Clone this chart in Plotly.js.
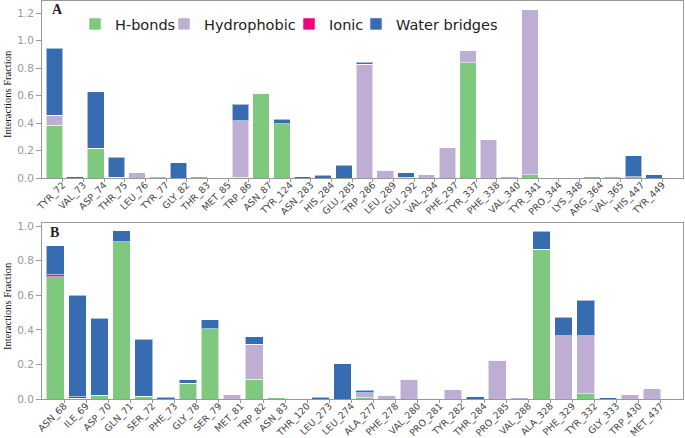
<!DOCTYPE html>
<html><head><meta charset="utf-8">
<script src="https://cdn.plot.ly/plotly-3.0.1.min.js"></script>
<style>html,body{margin:0;padding:0;background:#fff}#chart{width:685px;height:438px}</style>
</head><body><div id="chart"></div>
<script>
// ---- Panel A data ----
const residuesA = ["TYR_72","VAL_73","ASP_74","THR_75","LEU_76","TYR_77","GLY_82","THR_83","MET_85","TRP_86","ASN_87","TYR_124","ASN_283","HIS_284","GLU_285","TRP_286","LEU_289","GLU_292","VAL_294","PHE_297","TYR_337","PHE_338","VAL_340","TYR_341","PRO_344","LYS_348","ARG_364","VAL_365","HIS_447","TYR_449"];
const hbondsA      = [0.383,0,0.216,0.005,0,0,0,0.008,0,0.007,0.616,0.395,0,0,0,0,0,0,0,0,0.839,0,0,0.022,0,0,0.010,0,0.008,0];
const hydrophobicA = [0.073,0,0,0,0.040,0,0,0,0,0.410,0,0,0,0,0,0.829,0.058,0,0.022,0.220,0.080,0.279,0,1.197,0,0,0,0.012,0,0];
const ionicA       = [0,0,0,0,0,0,0,0,0,0,0,0,0,0,0,0,0,0.004,0,0,0,0,0,0,0,0,0,0,0,0];
const waterA       = [0.489,0.010,0.414,0.145,0,0.005,0.110,0,0,0.119,0,0.035,0.010,0.020,0.092,0.015,0,0.035,0,0,0.007,0,0.007,0.008,0,0.003,0,0,0.154,0.022];

// ---- Panel B data ----
const residuesB = ["ASN_68","ILE_69","ASP_70","GLN_71","SER_72","PHE_73","GLY_78","SER_79","MET_81","TRP_82","ASN_83","THR_120","LEU_273","LEU_274","ALA_277","PHE_278","VAL_280","PRO_281","TYR_282","THR_284","PRO_285","VAL_288","ALA_328","PHE_329","TYR_332","GLY_333","TRP_430","MET_437"];
const hbondsB      = [0.707,0.005,0.023,0.909,0.015,0,0.090,0.407,0,0.114,0.008,0,0,0,0.007,0,0,0,0,0,0,0,0.865,0,0.029,0,0,0];
const hydrophobicB = [0,0,0,0,0,0,0,0,0.025,0.204,0,0,0,0,0.030,0.021,0.114,0.004,0.054,0,0.224,0.008,0,0.366,0.337,0,0.025,0.058];
const ionicB       = [0.012,0.008,0,0,0,0,0,0,0,0,0,0,0,0,0,0,0,0,0,0,0,0,0,0,0,0,0,0];
const waterB       = [0.167,0.586,0.445,0.064,0.332,0.010,0.022,0.050,0,0.042,0,0,0.010,0.204,0.013,0,0,0,0,0.012,0,0,0.104,0.106,0.206,0.006,0,0];

const seriesNames = ["H-bonds","Hydrophobic","Ionic","Water bridges"];
const seriesColors = ["#7fc97f","#beaed4","#f0027f","#386cb0"];
const legendIds = ["legend","legend2","legend3","legend4"];

const W = 685, H = 438;
const px = v => v / W;
const py = v => 1 - v / H;

function makeTraces(cats, arrays, xa, ya, showLegend) {
  return arrays.map((vals, i) => ({
    type: "bar",
    x: cats, y: vals,
    name: seriesNames[i],
    xaxis: xa, yaxis: ya,
    width: 0.8, offset: -0.8,
    marker: {color: seriesColors[i], line: {color: "rgba(255,255,255,0.55)", width: 1}},
    showlegend: showLegend,
    legend: legendIds[i],
    hoverinfo: "x+y+name"
  }));
}

const traces = [
  ...makeTraces(residuesA, [hbondsA, hydrophobicA, ionicA, waterA], "x", "y", true),
  ...makeTraces(residuesB, [hbondsB, hydrophobicB, ionicB, waterB], "x2", "y2", false)
];

const xCommon = {
  type: "category", showline: true, mirror: true, linecolor: "#999", linewidth: 1,
  ticks: "outside", ticklen: 3, tickcolor: "#999", tickangle: -45, ticklabelstandoff: -6,
  tickfont: {family: "DejaVu Sans", size: 9.4, color: "#444"},
  showgrid: false, zeroline: false, fixedrange: true
};
const yCommon = {
  showline: true, mirror: true, linecolor: "#999", linewidth: 1,
  ticks: "outside", ticklen: 5, tickcolor: "#999", tickformat: ".1f", dtick: 0.2,
  tickfont: {family: "DejaVu Sans", size: 10.5, color: "#999"},
  showgrid: false, zeroline: false, fixedrange: true
};

const legendBase = {orientation: "h", bgcolor: "rgba(0,0,0,0)", borderwidth: 0,
  font: {family: "DejaVu Sans", size: 14.5, color: "#222"},
  xanchor: "left", yanchor: "middle", y: py(24), itemclick: false, itemdoubleclick: false};
const legendXs = [75, 164, 289, 356];

const layout = {
  width: W, height: H,
  margin: {l: 0, r: 0, t: 0, b: 0},
  paper_bgcolor: "#fff", plot_bgcolor: "#fff",
  barmode: "stack",
  xaxis: Object.assign({}, xCommon, {domain: [px(42), px(683)], anchor: "y", range: [-1, 30]}),
  yaxis: Object.assign({}, yCommon, {domain: [py(178), py(1)], anchor: "x", range: [0, 1.29]}),
  xaxis2: Object.assign({}, xCommon, {domain: [px(42), px(683)], anchor: "y2", range: [-1, 28]}),
  yaxis2: Object.assign({}, yCommon, {domain: [py(399), py(223)], anchor: "x2", range: [0, 1.018]}),
  legend:  Object.assign({}, legendBase, {x: px(legendXs[0])}),
  legend2: Object.assign({}, legendBase, {x: px(legendXs[1])}),
  legend3: Object.assign({}, legendBase, {x: px(legendXs[2])}),
  legend4: Object.assign({}, legendBase, {x: px(legendXs[3])}),
  annotations: [
    {text: "<b>A</b>", xref: "paper", yref: "paper", x: px(50), y: py(10), xanchor: "left", yanchor: "middle",
     showarrow: false, font: {family: "Liberation Serif", size: 14, color: "#222"}},
    {text: "<b>B</b>", xref: "paper", yref: "paper", x: px(48), y: py(232), xanchor: "left", yanchor: "middle",
     showarrow: false, font: {family: "Liberation Serif", size: 14, color: "#222"}},
    {text: "Interactions Fraction", xref: "paper", yref: "paper", x: px(7), y: py(94), textangle: -90,
     xanchor: "center", yanchor: "middle", showarrow: false, font: {family: "Liberation Serif", size: 10.5, color: "#111"}},
    {text: "Interactions Fraction", xref: "paper", yref: "paper", x: px(7), y: py(306), textangle: -90,
     xanchor: "center", yanchor: "middle", showarrow: false, font: {family: "Liberation Serif", size: 10.5, color: "#111"}}
  ]
};

Plotly.newPlot("chart", traces, layout, {displayModeBar: false, staticPlot: true});
</script>
</body></html>
